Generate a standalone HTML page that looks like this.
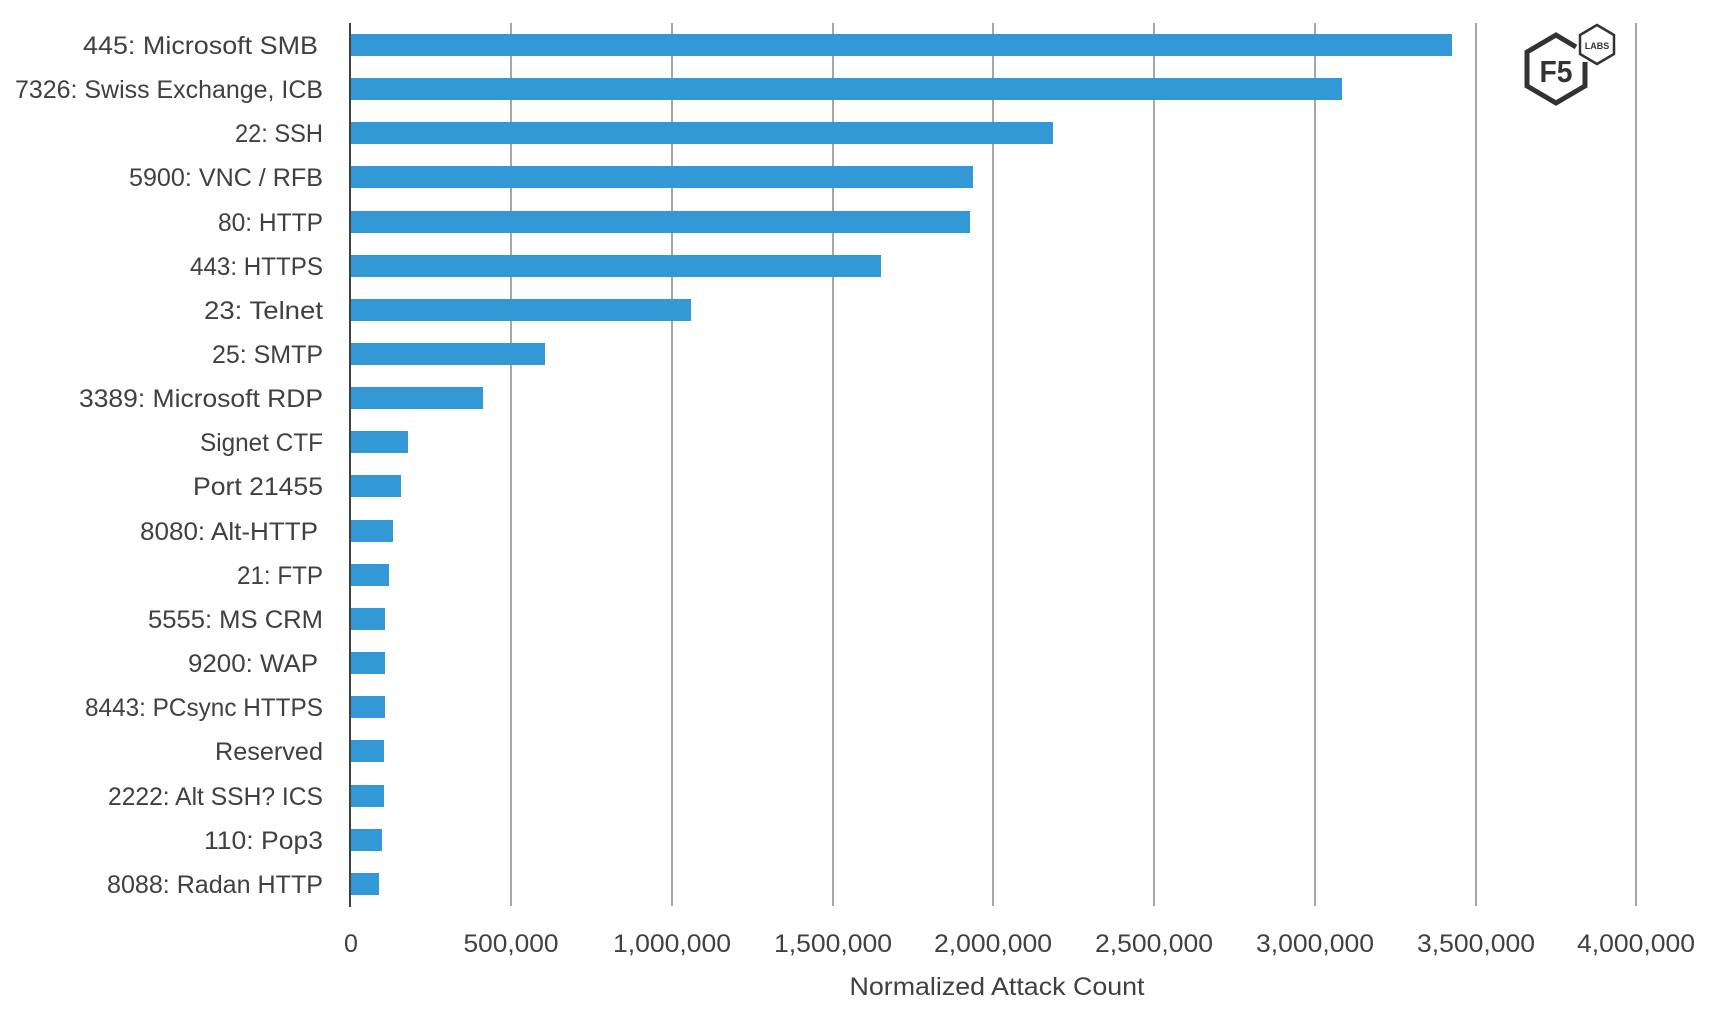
<!DOCTYPE html>
<html><head><meta charset="utf-8"><style>
html,body{margin:0;padding:0;background:#fff}
svg{display:block}
text{font-family:"Liberation Sans",sans-serif;fill:#404040}
</style></head><body>
<svg width="1717" height="1028" viewBox="0 0 1717 1028" xmlns="http://www.w3.org/2000/svg">
<g stroke="#a6a6a6" stroke-width="2">
<line x1="511" y1="23" x2="511" y2="906"/>
<line x1="672" y1="23" x2="672" y2="906"/>
<line x1="833" y1="23" x2="833" y2="906"/>
<line x1="993" y1="23" x2="993" y2="906"/>
<line x1="1154" y1="23" x2="1154" y2="906"/>
<line x1="1315" y1="23" x2="1315" y2="906"/>
<line x1="1476" y1="23" x2="1476" y2="906"/>
<line x1="1636" y1="23" x2="1636" y2="906"/>
</g>
<g fill="#3399d6">
<rect x="351" y="34" width="1101" height="22"/>
<rect x="351" y="78" width="991" height="22"/>
<rect x="351" y="122" width="702" height="22"/>
<rect x="351" y="166" width="622" height="22"/>
<rect x="351" y="211" width="619" height="22"/>
<rect x="351" y="255" width="530" height="22"/>
<rect x="351" y="299" width="340" height="22"/>
<rect x="351" y="343" width="194" height="22"/>
<rect x="351" y="387" width="132" height="22"/>
<rect x="351" y="431" width="57" height="22"/>
<rect x="351" y="475" width="50" height="22"/>
<rect x="351" y="520" width="42" height="22"/>
<rect x="351" y="564" width="38" height="22"/>
<rect x="351" y="608" width="34" height="22"/>
<rect x="351" y="652" width="34" height="22"/>
<rect x="351" y="696" width="34" height="22"/>
<rect x="351" y="740" width="33" height="22"/>
<rect x="351" y="785" width="33" height="22"/>
<rect x="351" y="829" width="31" height="22"/>
<rect x="351" y="873" width="28" height="22"/>
</g>
<line x1="350" y1="23" x2="350" y2="907" stroke="#404040" stroke-width="2"/>
<g font-size="25" text-anchor="end">
<text x="318" y="54" textLength="235" lengthAdjust="spacingAndGlyphs">445: Microsoft SMB</text>
<text x="323" y="98" textLength="308" lengthAdjust="spacingAndGlyphs">7326: Swiss Exchange, ICB</text>
<text x="323" y="142" textLength="88" lengthAdjust="spacingAndGlyphs">22: SSH</text>
<text x="323" y="186" textLength="194" lengthAdjust="spacingAndGlyphs">5900: VNC / RFB</text>
<text x="323" y="231" textLength="105" lengthAdjust="spacingAndGlyphs">80: HTTP</text>
<text x="323" y="275" textLength="133" lengthAdjust="spacingAndGlyphs">443: HTTPS</text>
<text x="323" y="319" textLength="119" lengthAdjust="spacingAndGlyphs">23: Telnet</text>
<text x="323" y="363" textLength="111" lengthAdjust="spacingAndGlyphs">25: SMTP</text>
<text x="323" y="407" textLength="244" lengthAdjust="spacingAndGlyphs">3389: Microsoft RDP</text>
<text x="323" y="451" textLength="123" lengthAdjust="spacingAndGlyphs">Signet CTF</text>
<text x="323" y="495" textLength="130" lengthAdjust="spacingAndGlyphs">Port 21455</text>
<text x="318" y="540" textLength="178" lengthAdjust="spacingAndGlyphs">8080: Alt-HTTP</text>
<text x="323" y="584" textLength="86" lengthAdjust="spacingAndGlyphs">21: FTP</text>
<text x="323" y="628" textLength="175" lengthAdjust="spacingAndGlyphs">5555: MS CRM</text>
<text x="318" y="672" textLength="130" lengthAdjust="spacingAndGlyphs">9200: WAP</text>
<text x="323" y="716" textLength="238" lengthAdjust="spacingAndGlyphs">8443: PCsync HTTPS</text>
<text x="323" y="760" textLength="108" lengthAdjust="spacingAndGlyphs">Reserved</text>
<text x="323" y="805" textLength="215" lengthAdjust="spacingAndGlyphs">2222: Alt SSH? ICS</text>
<text x="323" y="849" textLength="119" lengthAdjust="spacingAndGlyphs">110: Pop3</text>
<text x="323" y="893" textLength="216" lengthAdjust="spacingAndGlyphs">8088: Radan HTTP</text>
</g>
<g font-size="25" text-anchor="middle">
<text x="351" y="952">0</text>
<text x="511" y="952" textLength="95" lengthAdjust="spacingAndGlyphs">500,000</text>
<text x="672" y="952" textLength="118" lengthAdjust="spacingAndGlyphs">1,000,000</text>
<text x="833" y="952" textLength="118" lengthAdjust="spacingAndGlyphs">1,500,000</text>
<text x="993" y="952" textLength="118" lengthAdjust="spacingAndGlyphs">2,000,000</text>
<text x="1154" y="952" textLength="118" lengthAdjust="spacingAndGlyphs">2,500,000</text>
<text x="1315" y="952" textLength="118" lengthAdjust="spacingAndGlyphs">3,000,000</text>
<text x="1476" y="952" textLength="118" lengthAdjust="spacingAndGlyphs">3,500,000</text>
<text x="1636" y="952" textLength="118" lengthAdjust="spacingAndGlyphs">4,000,000</text>
<text x="997" y="995" textLength="295" lengthAdjust="spacingAndGlyphs">Normalized Attack Count</text>
</g>
<g fill="none" stroke="#333" stroke-width="5">
<polyline points="1576,47 1556,35 1527,52 1527,86 1556,103 1585,86 1585,62"/>
<polygon points="1597,25 1614,35 1614,54 1597,64 1580,54 1580,35" stroke-width="2.5" fill="#fff"/>
</g>
<text x="1556" y="82" font-size="31" font-weight="bold" text-anchor="middle" style="fill:#333" textLength="33" lengthAdjust="spacingAndGlyphs">F5</text>
<text x="1597" y="49" font-size="9" font-weight="bold" text-anchor="middle" style="fill:#333">LABS</text>
</svg>
</body></html>
